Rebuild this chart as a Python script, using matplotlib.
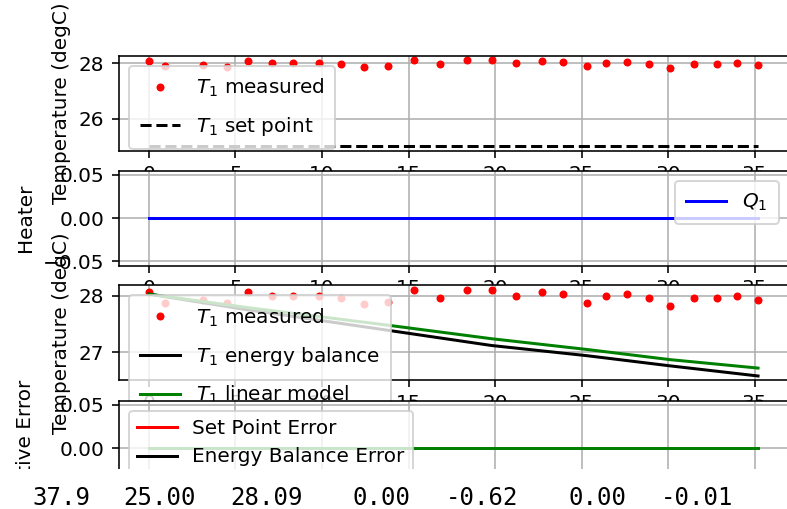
import matplotlib.pyplot as plt
from matplotlib.patches import Rectangle

# measured temperature
t = [0.0, 0.95, 3.15, 4.5, 5.75, 7.1, 8.3, 9.8, 11.1, 12.4, 13.8, 15.3, 16.8, 18.4,
     19.8, 21.2, 22.7, 23.9, 25.3, 26.4, 27.6, 28.9, 30.1, 31.5, 32.8, 34.0, 35.2]
T1 = [28.07, 27.88, 27.93, 27.87, 28.07, 27.99, 28.0, 27.99, 27.97, 27.85, 27.89,
      28.11, 27.96, 28.11, 28.11, 27.99, 28.06, 28.03, 27.88, 27.99, 28.03, 27.96,
      27.82, 27.96, 27.96, 28.0, 27.92]
Tsp = [25.0] * len(t)
Q1 = [0.0] * len(t)

# model predictions
t_model = [0.0, 5.75, 13.8, 19.8, 25.3, 30.1, 35.2]
T_eb = [28.03, 27.75, 27.39, 27.12, 26.94, 26.76, 26.58]
T_lin = [28.03, 27.79, 27.48, 27.24, 27.05, 26.87, 26.72]

# errors
err_sp = [0.0] * len(t)
err_eb = [0.0] * len(t)
err_lin = [0.0] * len(t)

# printed line under the plot
printed = ["37.9", "25.00", "28.09", "0.00", "-0.62", "0.00", "-0.01"]
printed_x = [32, 123, 230, 353, 446, 568, 661]

W, H = 787, 509
DPI = 144
fig = plt.figure(figsize=(W / DPI, H / DPI), dpi=DPI)


def box(top, height=95):
    return [118.5 / W, 1 - (top + height) / H, 670 / W, height / H]


# legends with math labels were taller in the original
math_leg = dict(labelspacing=0.8, borderpad=0.55)

ax1 = fig.add_axes(box(55.7))
ax1.grid()
ax1.plot(t, T1, 'r.', label=r'$T_1$ measured')
ax1.plot(t, Tsp, 'k--', label=r'$T_1$ set point')
ax1.set_ylabel('Temperature (degC)')
ax1.legend(loc='upper left', **math_leg)

ax2 = fig.add_axes(box(170.5))
ax2.grid()
ax2.plot(t, Q1, 'b-', label=r'$Q_1$')
ax2.set_ylabel('Heater')
ax2.legend(loc='upper right', **math_leg)

ax3 = fig.add_axes(box(285.3))
ax3.grid()
ax3.plot(t, T1, 'r.', label=r'$T_1$ measured')
ax3.plot(t_model, T_eb, 'k-', label=r'$T_1$ energy balance')
ax3.plot(t_model, T_lin, 'g-', label=r'$T_1$ linear model')
ax3.set_ylabel('Temperature (degC)')
ax3.legend(loc='upper left', **math_leg)

ax4 = fig.add_axes(box(400.5))
ax4.grid()
ax4.plot(t, err_sp, 'r-', label='Set Point Error')
ax4.plot(t, err_eb, 'k-', label='Energy Balance Error')
ax4.plot(t, err_lin, 'g-')
ax4.set_ylabel('Relative Error')
ax4.legend(loc='upper left')

# the figure is cut off by the printed output below it
fig.patches.append(Rectangle((0, 0), 1, (H - 469) / H, transform=fig.transFigure,
                             facecolor='white', edgecolor='none', zorder=5))
for s, x in zip(printed, printed_x):
    fig.text(x / W, 1 - 505 / H, s, family='DejaVu Sans Mono', fontsize=12,
             ha='left', va='baseline', zorder=6)

fig.savefig('out.png', dpi=DPI)
